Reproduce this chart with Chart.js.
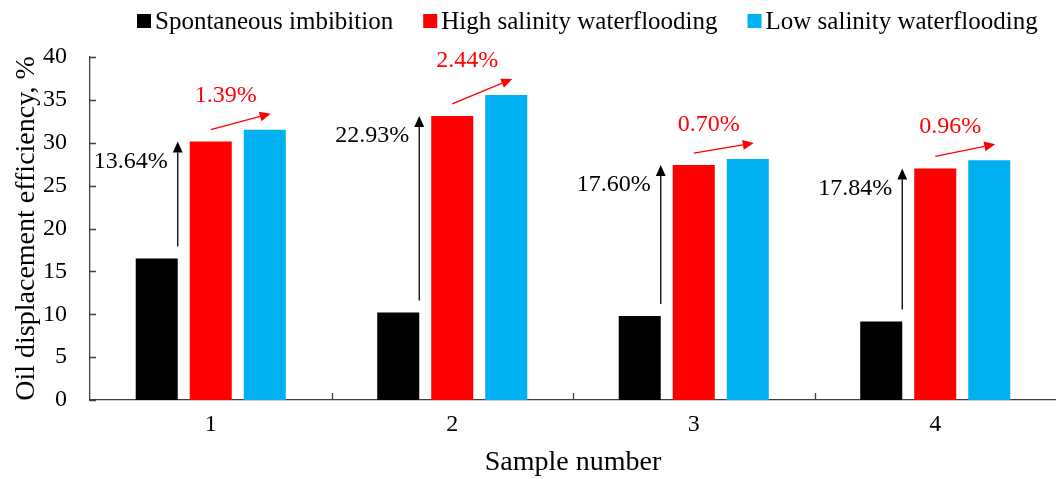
<!DOCTYPE html>
<html>
<head>
<meta charset="utf-8">
<script src="https://cdn.jsdelivr.net/npm/chart.js@4/dist/chart.umd.min.js"></script>
<style>
  body { margin: 0; background: #fff; }
  #wrap { width: 1056px; height: 479px; position: relative; }
</style>
</head>
<body>
<div id="wrap"><canvas id="chart"></canvas></div>
<script>
const samples = ['1', '2', '3', '4'];
const spontaneous = [16.5, 10.2, 9.8, 9.16];
const highSalinity = [30.14, 33.13, 27.4, 27.0];
const lowSalinity = [31.53, 35.57, 28.1, 27.96];
const yTicks = [0, 5, 10, 15, 20, 25, 30, 35, 40];

// labels on the arrows
const highGain = ['13.64%', '22.93%', '17.60%', '17.84%'];
const lowGain = ['1.39%', '2.44%', '0.70%', '0.96%'];

const FONT = '"Liberation Serif", "Times New Roman", serif';
const AXIS = '#404040';

function arrow(ctx, x1, y1, x2, y2, color, head) {
    const ang = Math.atan2(y2 - y1, x2 - x1);
    ctx.save();
    ctx.strokeStyle = color;
    ctx.fillStyle = color;
    ctx.lineWidth = 1.3;
    ctx.beginPath();
    ctx.moveTo(x1, y1);
    ctx.lineTo(x2 - Math.cos(ang) * head, y2 - Math.sin(ang) * head);
    ctx.stroke();
    ctx.beginPath();
    ctx.moveTo(x2, y2);
    ctx.lineTo(x2 - Math.cos(ang) * head - Math.sin(ang) * head * 0.45, y2 - Math.sin(ang) * head + Math.cos(ang) * head * 0.45);
    ctx.lineTo(x2 - Math.cos(ang) * head + Math.sin(ang) * head * 0.45, y2 - Math.sin(ang) * head - Math.cos(ang) * head * 0.45);
    ctx.closePath();
    ctx.fill();
    ctx.restore();
}

const extras = {
    id: 'extras',
    afterDraw(chart) {
        const ctx = chart.ctx;
        const area = chart.chartArea;
        const xs = chart.scales.x;
        const ys = chart.scales.y;

        // inward tick marks
        ctx.save();
        ctx.strokeStyle = AXIS;
        ctx.lineWidth = 1.3;
        ctx.beginPath();
        yTicks.forEach(v => {
            const y = Math.round(ys.getPixelForValue(v)) + 0.5;
            ctx.moveTo(area.left, y);
            ctx.lineTo(area.left + 6, y);
        });
        for (let i = 1; i < samples.length; i++) {
            const x = Math.round((xs.getPixelForValue(i - 1) + xs.getPixelForValue(i)) / 2) + 0.5;
            ctx.moveTo(x, area.bottom);
            ctx.lineTo(x, area.bottom - 7);
        }
        ctx.stroke();
        ctx.restore();

        // legend
        const items = chart.data.datasets;
        let lx = 137;
        ctx.save();
        ctx.font = '25px ' + FONT;
        ctx.textBaseline = 'middle';
        items.forEach(ds => {
            ctx.fillStyle = ds.backgroundColor;
            ctx.fillRect(lx, 14, 14, 14);
            ctx.fillStyle = '#000';
            ctx.fillText(ds.label, lx + 18, 22);
            lx += 18 + ctx.measureText(ds.label).width + 30;
        });
        ctx.restore();

        // arrows and increments
        const m0 = chart.getDatasetMeta(0).data;
        const m1 = chart.getDatasetMeta(1).data;
        const m2 = chart.getDatasetMeta(2).data;
        ctx.save();
        ctx.font = '24px ' + FONT;
        for (let i = 0; i < samples.length; i++) {
            const b = m0[i], r = m1[i], l = m2[i];
            const ax = b.x + b.width / 2;
            arrow(ctx, ax, b.y - 12, ax, r.y, '#000', 11);
            ctx.fillStyle = '#000';
            ctx.textAlign = 'right';
            ctx.textBaseline = 'middle';
            ctx.fillText(highGain[i], ax - 10, r.y + 20);

            const sx = r.x, sy = r.y - 12;
            const ex = l.x + 6, ey = l.y - 16;
            arrow(ctx, sx, sy, ex, ey, '#ff0000', 11);
            ctx.fillStyle = '#ff0000';
            ctx.textAlign = 'center';
            ctx.fillText(lowGain[i], r.x + 15, ey - 18);
        }
        ctx.restore();
    }
};

new Chart(document.getElementById('chart'), {
    type: 'bar',
    data: {
        labels: samples,
        datasets: [
            { label: 'Spontaneous imbibition', data: spontaneous, backgroundColor: '#000000' },
            { label: 'High salinity waterflooding', data: highSalinity, backgroundColor: '#ff0000' },
            { label: 'Low salinity waterflooding', data: lowSalinity, backgroundColor: '#00b0f0' }
        ]
    },
    options: {
        responsive: true,
        maintainAspectRatio: false,
        animation: false,
        categoryPercentage: 0.671,
        barPercentage: 0.778,
        layout: { padding: { top: 57, right: 0, left: 0, bottom: 0 } },
        plugins: {
            legend: { display: false },
            tooltip: { enabled: false }
        },
        scales: {
            x: {
                grid: { display: false, drawTicks: false },
                border: { display: true, color: AXIS, width: 1.3 },
                ticks: { color: '#000', font: { family: FONT, size: 24 }, padding: 10 },
                title: { display: true, text: 'Sample number', color: '#000', font: { family: FONT, size: 28 }, padding: { top: 0, bottom: 0 } },
                afterFit(scale) { scale.height = 79; }
            },
            y: {
                min: 0,
                max: 40,
                afterBuildTicks(scale) { scale.ticks = yTicks.map(v => ({ value: v })); },
                grid: { display: false, drawTicks: false },
                border: { display: true, color: AXIS, width: 1.3 },
                ticks: { color: '#000', font: { family: FONT, size: 24 }, padding: 23 },
                title: { display: true, text: 'Oil displacement efficiency, %', color: '#000', font: { family: FONT, size: 28 }, padding: { top: 10, bottom: 0 } },
                afterFit(scale) { scale.width = 90; }
            }
        }
    },
    plugins: [extras]
});
</script>
</body>
</html>
